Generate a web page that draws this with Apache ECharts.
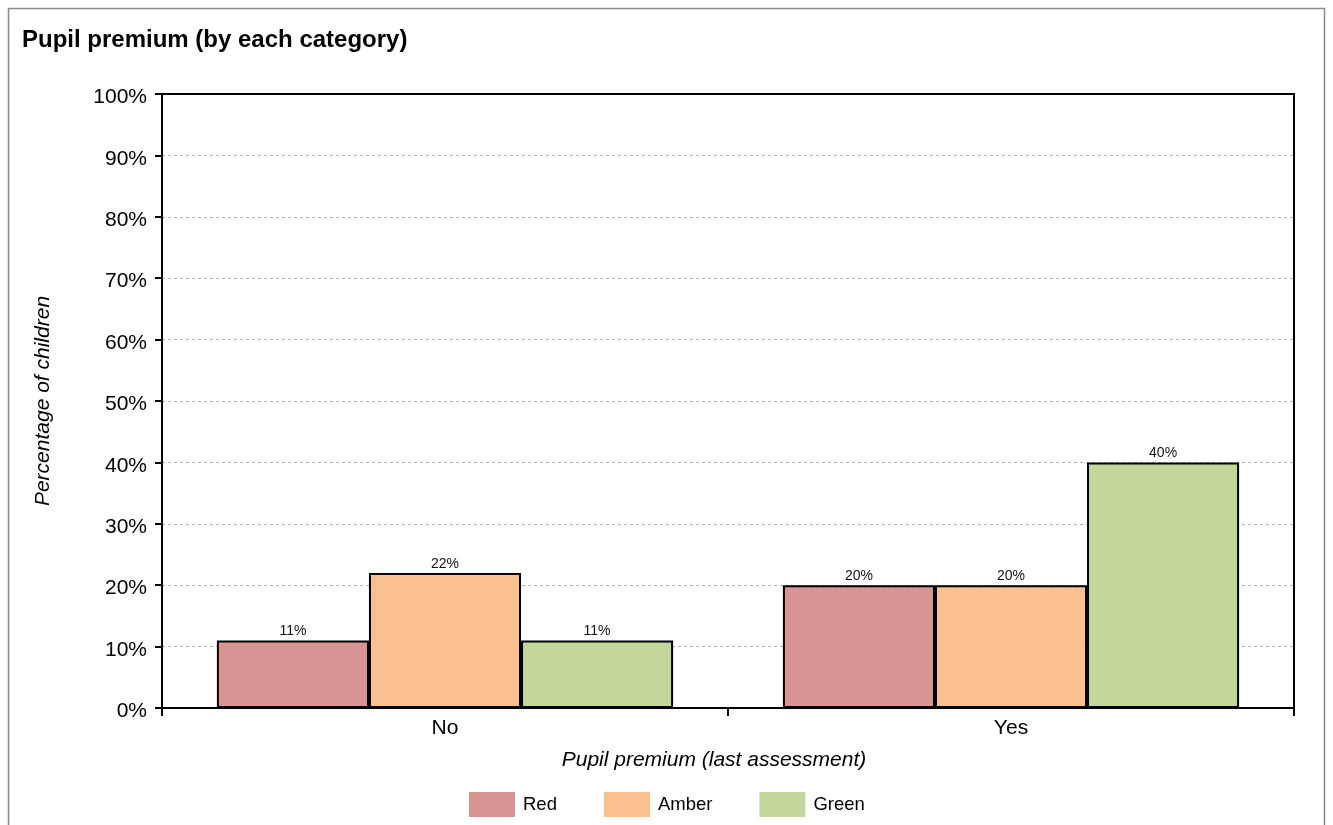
<!DOCTYPE html>
<html><head><meta charset="utf-8">
<script src="https://cdn.jsdelivr.net/npm/echarts@6/dist/echarts.min.js"></script>
<style>html,body{margin:0;padding:0;background:#fff}#c{width:1333px;height:825px}</style>
</head><body><div id="c"></div>
<script>
const categories = ['No', 'Yes'];
const redValues = [11, 20];
const amberValues = [22, 20];
const greenValues = [11, 40];
const yTicks = [0, 10, 20, 30, 40, 50, 60, 70, 80, 90, 100];

const chart = echarts.init(document.getElementById('c'), null, {renderer: 'canvas'});
const font = 'Liberation Sans, Arial, sans-serif';
function barSeries(name, data, color) {
  return {
    name, type: 'bar', data,
    barGap: '0%', barCategoryGap: '19.4%',
    itemStyle: {color, borderColor: '#000', borderWidth: 2},
    label: {show: true, position: 'top', distance: 2, formatter: '{c}%', fontFamily: font, fontSize: 14, color: '#111'},
    emphasis: {disabled: true}
  };
}
chart.setOption({
  animation: false,
  textStyle: {fontFamily: font},
  title: {text: 'Pupil premium (by each category)', left: 17, top: 23,
    textStyle: {fontFamily: font, fontSize: 24, fontWeight: 'bold', color: '#000'}},
  graphic: [{type: 'rect', shape: {x: 8.5, y: 8.5, width: 1316, height: 830}, style: {fill: 'none', stroke: '#8a8a8a', lineWidth: 1.5}, silent: true},
    {type: 'rect', shape: {x: 162, y: 94, width: 1132, height: 614}, style: {fill: 'none', stroke: '#000', lineWidth: 2}, silent: true, z: 100}],
  legend: {left: 469, top: 792, padding: 0, itemWidth: 46, itemHeight: 25, itemGap: 47,
    icon: 'rect',
    itemStyle: {borderWidth: 0},
    textStyle: {fontFamily: font, fontSize: 18.5, color: '#000', padding: [2, 0, 0, 3]},
    data: ['Red', 'Amber', 'Green']},
  grid: {left: 162, right: 39, top: 94, bottom: 117, containLabel: false},
  xAxis: {type: 'category', data: categories,
    name: 'Pupil premium (last assessment)', nameLocation: 'middle', nameGap: 42,
    nameTextStyle: {fontFamily: font, fontSize: 21, fontStyle: 'italic', color: '#000', padding: [0, 28, 0, 0]},
    axisLine: {lineStyle: {color: '#000', width: 2}},
    axisTick: {show: true, length: 8, lineStyle: {color: '#000', width: 2}},
    axisLabel: {fontFamily: font, fontSize: 21, color: '#000', margin: 10},
    splitLine: {show: false}},
  yAxis: {type: 'value', min: 0, max: 100, interval: 10,
    name: 'Percentage of children', nameLocation: 'middle', nameGap: 108,
    nameTextStyle: {fontFamily: font, fontSize: 21, fontStyle: 'italic', color: '#000'},
    axisLine: {show: true, lineStyle: {color: '#000', width: 2}},
    axisTick: {show: true, length: 7, lineStyle: {color: '#000', width: 2}},
    axisLabel: {margin: 15,
      formatter: v => yTicks.includes(v) ? '{v|' + v + '%}' : '',
      rich: {v: {fontFamily: font, fontSize: 21, color: '#000', padding: [7, 0, 0, 0]}}},
    splitLine: {show: true, lineStyle: {color: '#b4b4b4', type: [3, 3], width: 1}}},
  series: [barSeries('Red', redValues, '#D99594'), barSeries('Amber', amberValues, '#FBC08F'), barSeries('Green', greenValues, '#C3D69B')]
});
</script></body></html>
